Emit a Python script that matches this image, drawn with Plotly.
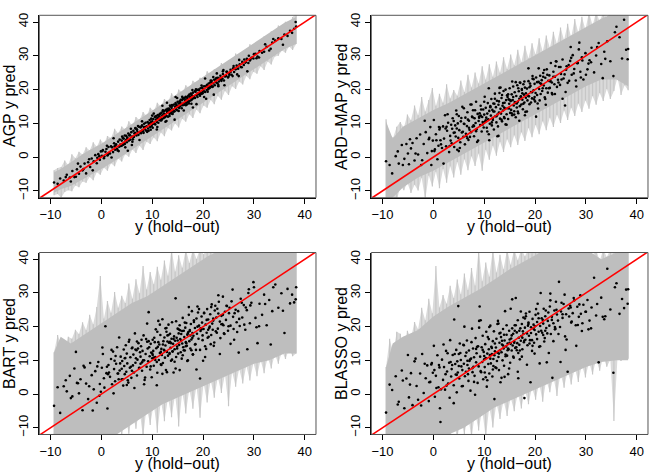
import plotly.graph_objects as go

# ---------------- data ----------------
# hold-out responses (x positions), shared by all four panels
x_holdout = [
    -9.3, -8.6, -8.1, -7.4, -6.8, -6.2, -5.7, -5.3, -4.8, -4.4,
    -4.1, -3.7, -3.3, -3.0, -2.6, -2.2, -1.9, -1.5, -1.2, -0.9,
    -0.6, -0.3, -0.1, 0.1, 0.3, 0.5, 0.8, 1.0, 1.2, 1.4,
    1.7, 1.9, 2.1, 2.3, 2.5, 2.7, 2.9, 3.1, 3.3, 3.5,
    3.6, 3.8, 4.0, 4.1, 4.3, 4.4, 4.5, 4.6, 4.7, 4.8,
    4.9, 5.0, 5.1, 5.3, 5.4, 5.6, 5.7, 5.9, 6.0, 6.2,
    6.3, 6.4, 6.6, 6.7, 6.9, 7.0, 7.1, 7.3, 7.4, 7.6,
    7.7, 7.8, 8.0, 8.1, 8.3, 8.4, 8.5, 8.7, 8.8, 8.9,
    9.1, 9.2, 9.3, 9.5, 9.6, 9.7, 9.8, 9.9, 10.0, 10.1,
    10.2, 10.3, 10.5, 10.6, 10.7, 10.8, 10.9, 11.0, 11.1, 11.2,
    11.3, 11.4, 11.5, 11.6, 11.7, 11.8, 11.9, 12.0, 12.1, 12.2,
    12.3, 12.4, 12.5, 12.6, 12.7, 12.8, 12.9, 13.0, 13.1, 13.2,
    13.3, 13.4, 13.5, 13.6, 13.7, 13.8, 13.9, 14.0, 14.1, 14.2,
    14.3, 14.4, 14.5, 14.6, 14.7, 14.8, 14.9, 15.0, 15.1, 15.2,
    15.3, 15.4, 15.5, 15.6, 15.7, 15.8, 15.9, 16.0, 16.1, 16.2,
    16.3, 16.4, 16.5, 16.6, 16.7, 16.8, 16.9, 17.0, 17.1, 17.2,
    17.3, 17.4, 17.5, 17.6, 17.7, 17.8, 17.9, 18.0, 18.1, 18.2,
    18.4, 18.5, 18.7, 18.8, 18.9, 19.1, 19.2, 19.4, 19.5, 19.7,
    19.8, 19.9, 20.1, 20.2, 20.4, 20.5, 20.7, 20.8, 21.0, 21.1,
    21.3, 21.4, 21.6, 21.7, 21.9, 22.0, 22.2, 22.3, 22.5, 22.6,
    22.8, 22.9, 23.1, 23.3, 23.4, 23.6, 23.8, 23.9, 24.1, 24.3,
    24.5, 24.7, 24.9, 25.1, 25.4, 25.6, 25.9, 26.1, 26.4, 26.6,
    26.9, 27.2, 27.4, 27.7, 28.0, 28.3, 28.6, 28.9, 29.2, 29.5,
    29.9, 30.3, 30.7, 31.1, 31.6, 32.0, 32.5, 33.0, 33.6, 34.2,
    34.8, 35.4, 36.0, 36.6, 37.1, 37.5, 37.9, 38.2, 33.3, 38.3,
    -7.0, -6.0, -4.6, -3.5, -2.4, -1.7, -0.8, 0.2, 0.6, 1.1,
    1.5, 2.0, 2.4, 2.8, 3.2, 3.7, 4.2, 4.6, 5.2, 5.5,
    5.8, 6.1, 6.5, 6.8, 7.2, 7.5, 7.9, 8.2, 8.6, 9.0,
    9.4, 9.7, 10.0, 10.4, 10.6, 10.9, 11.2, 11.5, 11.8, 12.1,
    12.4, 12.6, 12.9, 13.2, 13.4, 13.7, 13.9, 14.2, 14.4, 14.7,
    14.9, 15.2, 15.4, 15.7, 15.9, 16.2, 16.4, 16.7, 16.9, 17.2,
    17.4, 17.7, 17.9, 18.2, 18.4, 18.7, 18.9, 19.2, 19.4, 19.7,
    19.9, 20.2, 20.4, 20.7, 20.9, 21.2, 21.5, 21.8, 22.1, 22.4,
    22.7, 23.0, 23.3, 23.6, 23.9, 24.2, 24.6, 25.0, 25.4, 25.8,
    26.2, 26.7, 27.1, 27.6, 28.1, 28.7, 29.3, 30.0, 31.0, 32.2,
    10.1, 11.0, 12.0, 13.0, 14.0, 15.0, 16.0, 17.0, 18.0, 19.0,
    8.0, 9.0, 20.0, 21.0, 22.0, 6.0, 7.0, 4.0, 5.0, 23.0,
    2.6, 3.4, 24.0, 25.2, 26.0, 27.0, 28.4, 29.0, 30.5, 13.5,
    11.7, 12.8, 14.6, 15.5, 16.6, 17.5, 18.6, 19.5, 20.6, 21.6,
    10.3, 9.3, 8.4, 7.7, 6.7, 35.7, 33.8, 1.3, -0.4, -5.0,
]

pred_agp = [
    -7.5, -7.9, -6.3, -6.9, -5.2, -6.0, -4.1, -5.9, -3.6, -4.9,
    -2.8, -3.9, -1.9, -4.8, -1.5, -2.9, -0.4, -1.2, 0.6, -1.8,
    0.9, -0.8, 1.7, 0.4, 2.1, -0.3, 1.6, 2.4, 0.5, 3.0,
    1.1, 3.2, 2.9, 1.5, 4.1, 2.2, 3.8, 2.5, 4.6, 3.1,
    5.2, 3.3, 4.9, 6.1, 3.7, 5.5, 4.2, 6.4, 2.9, 5.0,
    6.3, 4.4, 5.8, 7.0, 4.9, 6.6, 5.2, 7.4, 6.1, 5.3,
    7.8, 6.0, 7.2, 8.5, 6.4, 8.1, 7.5, 6.6, 9.0, 7.3,
    8.8, 7.1, 9.4, 8.0, 7.2, 9.9, 8.3, 10.2, 7.9, 9.1,
    10.4, 8.5, 9.8, 11.0, 8.9, 10.3, 11.4, 9.2, 10.6, 8.7,
    11.3, 10.0, 11.9, 9.7, 11.1, 12.2, 10.4, 11.6, 12.5, 10.2,
    12.1, 11.0, 12.8, 10.9, 11.7, 13.1, 11.3, 12.4, 13.5, 11.5,
    12.9, 13.7, 11.8, 12.6, 14.0, 12.2, 13.4, 14.3, 12.0, 13.8,
    14.4, 12.8, 13.9, 15.0, 13.1, 14.6, 12.9, 15.2, 14.0, 13.5,
    15.6, 13.6, 14.9, 16.0, 14.2, 15.3, 13.9, 16.4, 14.8, 15.9,
    14.6, 16.5, 15.1, 17.0, 15.8, 14.5, 16.9, 15.4, 17.3, 16.0,
    17.4, 15.5, 16.8, 17.9, 16.1, 15.6, 17.7, 16.6, 18.2, 16.4,
    18.5, 16.7, 17.9, 18.8, 16.9, 18.3, 17.2, 19.1, 17.6, 18.0,
    17.5, 19.4, 18.3, 19.9, 17.8, 20.0, 18.6, 19.2, 20.4, 18.8,
    20.6, 18.9, 19.7, 21.0, 19.3, 20.9, 19.9, 21.4, 20.1, 21.8,
    20.5, 22.1, 21.0, 22.6, 20.9, 21.8, 22.9, 21.3, 22.2, 23.4,
    21.9, 23.5, 22.4, 23.0, 24.1, 22.6, 23.3, 24.6, 22.7, 23.9,
    24.0, 25.3, 23.6, 24.8, 25.9, 24.4, 26.3, 25.2, 26.0, 27.1,
    26.2, 27.5, 26.7, 28.2, 27.3, 28.0, 29.1, 27.9, 28.6, 29.4,
    29.2, 30.6, 29.8, 31.4, 30.9, 31.2, 32.7, 31.6, 33.9, 34.5,
    35.2, 35.0, 36.3, 35.9, 37.4, 36.8, 38.0, 40.0, 32.1, 38.7,
    -5.9, -7.2, -1.9, -3.5, -0.6, -3.9, -0.2, 1.8, 0.2, 3.4,
    1.2, -0.1, 5.6, 3.6, 2.0, 3.7, 5.7, 3.9, 1.9, 6.4,
    8.4, 4.6, 7.0, 6.7, 9.2, 5.1, 9.1, 7.6, 8.9, 7.7,
    10.0, 8.1, 12.3, 10.0, 12.0, 8.2, 11.4, 12.6, 10.9, 13.9,
    12.1, 10.5, 16.1, 14.0, 12.2, 13.7, 15.4, 13.5, 11.1, 15.6,
    17.5, 13.7, 15.9, 15.6, 17.9, 13.8, 17.6, 16.1, 17.2, 15.9,
    17.7, 15.8, 19.9, 17.5, 19.5, 15.7, 18.8, 19.9, 18.2, 21.2,
    19.3, 17.8, 23.3, 21.2, 19.4, 20.9, 22.7, 20.8, 18.5, 23.0,
    24.8, 21.0, 23.3, 23.0, 25.4, 21.3, 25.3, 23.9, 25.2, 24.0,
    26.2, 24.5, 28.8, 26.6, 28.9, 25.4, 28.9, 30.5, 29.5, 33.4,
    9.8, 8.9, 15.2, 13.8, 12.8, 15.0, 17.5, 16.3, 14.7, 19.9,
    10.6, 7.5, 20.2, 20.6, 23.7, 3.6, 8.2, 3.4, 5.3, 21.4,
    3.2, 1.8, 25.8, 24.4, 27.0, 24.0, 28.2, 30.0, 29.3, 15.3,
    11.4, 10.7, 17.8, 16.3, 15.4, 17.5, 20.1, 18.8, 17.3, 22.2,
    12.9, 7.8, 8.9, 7.6, 8.6, 33.3, 35.0, 0.7, 0.3, -5.8,
]

pred_ard = [
    -1.2, -2.3, -4.8, 0.3, -1.9, 3.6, -0.5, 3.9, -2.1, 2.6,
    4.2, -1.0, 5.6, 0.8, 6.7, -0.9, 3.9, 7.4, 1.2, 5.3,
    8.9, 1.8, 4.9, 11.0, 2.3, 6.8, -0.6, 3.4, 8.2, 5.0,
    2.7, 9.1, 5.5, 12.4, 3.2, 7.8, 10.2, 1.5, 6.3, 9.6,
    4.1, 11.5, 7.2, 3.0, 9.4, 6.1, 13.8, 8.5, 2.2, 10.0,
    5.7, 12.2, 8.0, 4.4, 10.6, 7.3, 14.9, 6.0, 9.9, 3.8,
    11.7, 6.9, 9.2, 13.3, 5.1, 10.8, 8.1, 15.6, 7.4, 12.0,
    9.0, 13.9, 6.2, 11.5, 10.1, 16.4, 8.3, 12.8, 4.9, 10.7,
    13.0, 9.5, 15.2, 7.6, 11.9, 10.4, 14.1, 8.8, 12.6, 17.9,
    10.5, 14.6, 8.7, 12.9, 16.0, 11.2, 6.8, 13.7, 9.9, 15.1,
    12.3, 17.2, 9.4, 14.0, 11.0, 15.9, 8.2, 13.5, 18.8, 12.1,
    14.8, 10.3, 16.7, 12.6, 9.1, 15.5, 13.2, 19.0, 11.4, 14.3,
    12.9, 17.5, 10.6, 15.2, 13.8, 19.6, 11.9, 16.1, 14.4, 9.7,
    16.9, 12.7, 18.3, 14.5, 11.3, 17.1, 15.8, 20.4, 13.1, 16.6,
    14.0, 18.6, 12.4, 16.9, 20.9, 15.3, 13.6, 19.2, 16.0, 11.8,
    18.1, 14.7, 21.3, 16.4, 13.0, 19.5, 17.3, 15.1, 22.0, 17.9,
    15.6, 19.9, 17.0, 14.2, 21.6, 18.5, 16.2, 20.6, 13.4, 18.9,
    20.3, 16.8, 22.5, 18.0, 15.7, 21.1, 19.3, 17.4, 23.2, 19.8,
    17.1, 21.7, 19.0, 23.6, 18.4, 15.9, 22.3, 20.2, 24.1, 18.7,
    22.8, 19.6, 24.9, 21.2, 17.7, 23.5, 20.4, 26.0, 19.1, 22.6,
    24.2, 20.5, 27.9, 22.1, 18.6, 25.3, 21.6, 23.8, 28.4, 20.8,
    22.9, 26.7, 21.4, 24.6, 28.9, 23.3, 15.3, 25.9, 22.0, 27.3,
    28.5, 24.4, 30.2, 26.1, 22.7, 27.8, 31.9, 25.3, 29.6, 23.0,
    30.8, 26.0, 28.7, 32.4, 25.1, 30.1, 33.8, 27.6, 31.2, 34.3,
    28.4, 24.0, 38.6, 35.5, 29.2, 40.7, 31.8, 29.0, 23.4, 32.0,
    1.7, -2.3, 5.3, 1.1, -2.3, 10.8, 5.7, 1.8, 5.0, 8.9,
    3.8, -1.9, 8.5, 12.7, 3.3, 8.4, 7.3, 12.7, 2.7, 11.6,
    7.5, 9.8, 6.2, 11.1, 6.0, 15.6, 9.4, 13.9, 4.5, 11.7,
    14.1, 9.7, 16.4, 11.7, 7.6, 20.4, 14.8, 10.3, 13.5, 17.3,
    12.1, 6.2, 16.5, 20.6, 11.1, 16.0, 14.7, 20.0, 9.6, 18.6,
    14.4, 16.8, 13.0, 17.8, 12.6, 22.2, 15.9, 20.4, 10.8, 18.0,
    20.2, 15.8, 22.4, 17.6, 13.5, 26.3, 20.7, 16.2, 19.2, 23.1,
    17.8, 12.0, 22.2, 26.3, 16.8, 21.7, 20.4, 25.8, 15.5, 24.4,
    20.4, 22.7, 19.0, 23.8, 18.7, 28.3, 22.1, 26.7, 17.3, 24.5,
    26.9, 22.6, 29.4, 24.8, 20.9, 33.9, 28.6, 24.4, 28.1, 32.6,
    10.4, 5.0, 15.8, 20.5, 11.5, 17.0, 16.3, 22.1, 12.4, 21.8,
    9.2, 12.0, 16.5, 21.9, 17.2, 14.5, 8.7, 10.7, 1.8, 22.4,
    9.0, 4.9, 27.0, 23.0, 19.3, 32.6, 27.9, 23.6, 27.7, 18.4,
    11.6, 6.3, 17.8, 22.4, 13.5, 18.9, 18.2, 24.0, 14.4, 23.8,
    10.9, 12.3, 7.7, 11.8, 5.6, 37.0, 29.1, 8.7, -2.3, 1.1,
]

pred_bart = [
    -3.5, 2.0, -5.6, 2.3, 0.8, 5.4, -0.7, 7.6, 3.3, 0.2,
    4.4, -4.8, 7.9, 3.1, -1.5, 9.2, 5.6, 1.4, 6.8, -2.6,
    9.5, 3.0, 0.7, 7.8, 11.9, 4.7, 20.1, 6.2, -4.3, 8.6,
    5.1, 10.4, 2.9, 12.6, 7.4, 3.8, 9.0, 13.9, 6.1, 16.8,
    7.0, 11.1, 4.4, 9.8, 2.5, 13.2, 8.3, 5.9, 10.7, 14.5,
    6.6, 12.0, 9.1, 3.4, 15.5, 7.8, 10.9, 4.8, 13.6, 8.5,
    11.7, 6.4, 18.0, 9.3, 13.0, 5.5, 10.2, 15.1, 7.7, 12.4,
    9.0, 14.2, 6.9, 12.8, 17.4, 10.0, 4.2, 11.9, 16.3, 8.1,
    13.5, 9.7, 24.3, 11.2, 7.3, 14.9, 12.3, 5.0, 10.6, 16.1,
    12.8, 8.4, 15.4, 11.0, 19.2, 13.6, 9.5, 6.3, 14.0, 21.7,
    10.1, 14.7, 12.2, 17.5, 8.8, 13.4, 11.6, 22.2, 9.2, 15.7,
    13.1, 16.8, 10.8, 14.4, 7.1, 18.5, 12.5, 15.6, 11.4, 20.6,
    15.2, 11.9, 17.9, 13.7, 9.9, 16.4, 21.3, 12.7, 14.9, 6.4,
    17.1, 13.3, 15.8, 28.4, 11.0, 16.7, 14.1, 19.4, 12.0, 18.0,
    14.6, 20.4, 16.3, 12.4, 17.8, 10.5, 15.0, 22.6, 13.9, 18.8,
    16.9, 12.9, 19.7, 15.4, 21.1, 14.3, 17.6, 10.0, 18.4, 23.5,
    15.7, 19.0, 13.5, 20.8, 16.2, 24.6, 18.1, 11.7, 17.3, 21.9,
    19.6, 14.8, 22.4, 17.9, 26.0, 16.4, 20.3, 4.6, 18.7, 23.0,
    21.2, 16.0, 19.3, 24.1, 14.2, 20.6, 18.2, 25.2, 22.1, 17.0,
    20.0, 23.7, 17.5, 26.6, 19.1, 21.8, 15.3, 24.8, 18.6, 22.7,
    25.3, 19.4, 27.4, 21.5, 16.6, 23.2, 20.8, 28.9, 18.0, 24.4,
    22.0, 26.1, 18.8, 24.0, 20.3, 27.5, 22.9, 16.1, 25.0, 21.3,
    24.6, 20.2, 28.3, 22.7, 26.4, 19.1, 24.9, 30.0, 21.0, 27.1,
    33.2, 22.6, 15.1, 26.8, 23.5, 29.5, 20.4, 27.9, 24.6, 32.5,
    25.6, 29.9, 18.1, 31.2, 26.9, 29.5, 27.2, 28.1, 14.7, 31.7,
    4.1, -1.2, 3.2, 8.4, 2.3, -4.9, 8.2, 13.8, 1.9, 8.1,
    6.4, 13.1, 0.2, 11.3, 6.1, 9.1, 4.4, 10.6, 4.1, 16.1,
    8.1, 13.8, 1.8, 10.6, 13.5, 7.8, 16.1, 10.0, 4.9, 20.9,
    13.9, 8.2, 12.0, 16.7, 10.1, 2.6, 15.4, 20.6, 8.6, 14.7,
    12.9, 19.5, 6.5, 17.5, 12.2, 15.1, 10.2, 16.3, 9.6, 21.6,
    13.5, 19.2, 7.1, 15.9, 18.7, 13.0, 21.2, 15.1, 9.8, 25.8,
    18.7, 13.0, 16.7, 21.4, 14.7, 7.3, 20.0, 25.2, 13.1, 19.2,
    17.4, 24.0, 11.0, 22.0, 16.7, 19.6, 14.8, 20.9, 14.3, 26.2,
    18.2, 23.9, 11.9, 20.7, 23.5, 17.8, 26.2, 20.1, 14.9, 31.0,
    24.0, 18.4, 22.3, 27.1, 20.6, 13.3, 26.3, 31.7, 20.1, 26.7,
    11.6, 18.5, 6.0, 17.4, 12.6, 15.9, 11.5, 18.0, 11.8, 24.2,
    9.4, 15.5, 9.9, 19.1, 22.4, 6.9, 15.6, 7.5, 2.7, 29.3,
    9.9, 4.4, 20.4, 25.6, 19.3, 12.3, 25.7, 31.1, 19.8, 15.5,
    12.5, 19.6, 7.6, 18.9, 14.2, 17.4, 13.1, 19.5, 13.4, 25.8,
    10.8, 15.7, 2.9, 11.1, 13.2, 24.7, 31.7, 5.9, -0.5, 12.5,
]

pred_blasso = [
    -5.5, 2.8, 1.2, 5.3, -2.3, 7.0, -4.2, 4.6, -1.0, 6.2,
    -3.3, 9.7, 2.4, -1.7, 6.1, 11.9, 0.3, 4.7, 8.5, -2.1,
    3.6, 9.2, 6.3, 14.3, -0.8, 5.4, 11.5, 2.0, 7.9, -8.3,
    10.2, 4.2, 8.0, 1.3, 12.8, 6.7, 3.1, 9.3, 16.0, 5.2,
    7.4, 11.6, 2.6, 22.1, 8.9, 5.8, 13.1, 0.5, 9.7, 6.4,
    26.1, 8.3, 4.6, 12.2, 10.1, 2.3, 7.1, 14.6, 9.0, 5.3,
    11.3, 6.6, 15.9, 8.6, 3.9, 12.9, 9.8, 1.0, 10.5, 19.4,
    7.7, 13.5, 10.9, 5.4, 16.6, 9.4, 12.1, 3.3, 14.2, 8.2,
    26.0, 11.1, 6.8, 13.9, 9.5, 17.3, 4.4, 12.5, 10.3, 8.0,
    14.8, 10.7, 2.2, 12.0, 16.9, 8.9, 13.3, 6.1, 11.6, 20.3,
    9.1, 14.0, 11.9, 5.2, 15.7, 10.4, 18.6, -1.5, 12.7, 7.9,
    13.8, 16.4, 9.8, 12.3, 21.7, 11.0, 7.1, 15.2, 13.0, 3.5,
    16.9, 12.4, 14.7, 10.0, 19.3, 13.5, 8.4, 15.9, 24.6, 11.7,
    14.1, 17.6, 11.4, 15.0, 5.9, 13.2, 18.8, 16.2, 9.3, 14.9,
    16.5, 12.9, 28.1, 14.4, 17.9, 10.8, 15.6, 20.4, 13.7, 28.5,
    13.9, 18.3, 15.1, 21.9, 12.2, 16.7, 14.6, 10.3, 19.5, 15.8,
    17.2, 20.8, 13.3, 18.6, 22.7, 15.4, -1.2, 19.7, 16.1, 23.9,
    18.0, 14.5, 21.2, 17.3, 24.4, 3.5, 19.8, 16.0, 22.3, 20.6,
    15.2, 19.0, 23.5, 17.7, 21.4, 26.8, 18.5, 14.0, 20.2, 30.0,
    22.5, 18.2, 20.9, 25.3, 16.6, 23.1, 19.6, 9.4, 21.7, 24.2,
    20.3, 26.0, 17.8, 22.9, 4.8, 21.0, 24.8, 19.2, 27.4, 23.6,
    21.8, 33.3, 19.9, 24.5, 22.6, 26.7, 17.1, 23.7, 6.6, 25.4,
    26.2, 21.5, 24.0, 27.8, 20.4, 25.9, 22.9, 29.3, 18.7, 26.5,
    24.4, 27.9, 21.8, 25.7, 34.5, 23.3, 9.4, 28.6, 22.2, 37.2,
    25.1, 6.3, 32.9, 23.8, 28.2, 25.5, 31.0, 26.8, 22.9, 31.1,
    -3.1, 4.0, 2.8, 10.5, -3.4, 9.0, 3.5, 7.1, 1.8, 8.6,
    1.4, 14.7, 5.9, 12.1, -1.1, 8.6, 11.9, 5.7, 15.0, 8.2,
    2.4, 20.0, 12.3, 5.9, 10.2, 15.4, 8.1, -0.2, 14.0, 19.7,
    6.5, 13.1, 11.3, 18.5, 4.1, 16.3, 10.5, 13.7, 8.3, 15.0,
    7.7, 20.8, 12.0, 18.2, 4.8, 14.4, 17.6, 11.2, 20.4, 13.5,
    7.6, 25.3, 17.4, 11.1, 15.2, 20.4, 13.0, 4.7, 18.8, 24.5,
    11.1, 17.8, 15.9, 23.1, 8.7, 20.8, 15.0, 18.1, 12.8, 19.4,
    12.0, 25.2, 16.3, 22.5, 9.1, 18.8, 22.0, 15.6, 24.8, 18.0,
    12.2, 29.8, 22.0, 15.7, 19.9, 25.0, 17.8, 9.5, 23.7, 29.5,
    16.2, 23.0, 21.2, 28.5, 14.3, 26.6, 21.0, 24.4, 19.5, 26.7,
    6.4, 19.9, 11.5, 18.0, 5.1, 15.2, 18.8, 12.9, 22.4, 16.0,
    3.6, 21.7, 20.1, 14.2, 18.8, 14.5, 7.6, -2.7, 11.9, 27.8,
    2.5, 9.5, 19.4, 27.1, 13.1, 25.7, 20.5, 23.8, 19.2, 15.8,
    7.3, 20.9, 13.0, 19.5, 6.6, 16.7, 20.3, 14.3, 23.9, 17.5,
    5.0, 21.9, 13.4, 6.5, 9.9, 31.7, 23.1, -4.2, 8.8, 11.6,
]

# outer (spiky) predictive-interval envelope, sampled along the hold-out axis
band_x = [
    -9.3, -8.6, -7.9, -7.2, -6.5, -5.8, -5.1, -4.4, -3.7, -3.0,
    -2.3, -1.6, -0.9, -0.2, 0.5, 1.2, 1.9, 2.6, 3.3, 4.0,
    4.7, 5.4, 6.1, 6.8, 7.5, 8.2, 8.9, 9.6, 10.3, 11.0,
    11.7, 12.4, 13.1, 13.8, 14.5, 15.2, 15.9, 16.6, 17.3, 18.0,
    18.7, 19.4, 20.1, 20.8, 21.5, 22.2, 22.9, 23.6, 24.3, 25.0,
    25.7, 26.4, 27.1, 27.8, 28.5, 29.2, 29.9, 30.6, 31.3, 32.0,
    32.7, 33.4, 34.1, 34.8, 35.5, 36.2, 36.9, 37.6, 38.3,
]

agp_hi = [
    -3.9, -3.2, -2.9, -1.0, -2.4, 0.9, -0.3, 1.6, 0.8, 2.9,
    2.0, 4.4, 3.1, 5.2, 4.0, 6.3, 5.6, 8.4, 7.0, 9.1,
    8.2, 10.6, 9.3, 11.9, 11.0, 13.4, 12.2, 14.6, 13.7, 16.1,
    15.0, 17.2, 16.4, 18.9, 17.6, 20.0, 19.1, 21.3, 20.4, 22.6,
    21.8, 23.5, 22.9, 25.4, 24.3, 26.0, 25.6, 27.9, 26.8, 28.6,
    28.0, 30.7, 29.5, 31.2, 30.9, 33.4, 32.6, 34.1, 33.5, 35.8,
    35.2, 37.3, 36.6, 39.0, 38.4, 40.1, 39.6, 41.5, 42.5,
]
agp_lo = [
    -11.3, -10.9, -12.0, -10.3, -9.8, -10.1, -8.4, -8.9, -7.2, -7.6,
    -5.9, -6.8, -4.5, -5.2, -3.1, -4.0, -1.8, -2.7, -0.4, -1.3,
    0.9, 0.1, 2.3, 1.2, 3.4, 2.1, 4.6, 3.9, 5.8, 4.7,
    7.3, 6.2, 8.6, 7.9, 10.0, 8.8, 11.4, 10.5, 12.7, 11.6,
    14.1, 13.0, 15.3, 14.6, 16.9, 15.7, 18.1, 17.0, 19.6, 18.4,
    21.0, 20.2, 22.4, 21.5, 24.0, 23.1, 25.3, 24.7, 26.9, 25.8,
    28.3, 27.4, 29.8, 30.0, 31.6, 30.9, 32.8, 31.7, 33.5,
]

ard_hi = [
    11.2, 6.5, 5.8, 9.0, 10.4, 8.7, 12.6, 10.9, 15.3, 12.4,
    17.8, 13.5, 16.9, 20.5, 15.2, 18.8, 16.1, 21.6, 17.4, 19.9,
    18.2, 22.7, 19.3, 24.4, 20.6, 25.1, 21.8, 26.9, 22.9, 27.5,
    23.8, 28.3, 25.0, 29.6, 26.1, 30.4, 27.2, 31.8, 28.1, 33.0,
    29.2, 33.7, 30.4, 35.2, 31.3, 36.0, 32.4, 37.1, 33.5, 38.4,
    34.6, 39.5, 35.5, 40.9, 36.8, 41.6, 37.7, 43.0, 38.9, 43.0,
    40.2, 43.0, 41.3, 43.0, 43.0, 43.0, 43.0, 43.0, 43.0,
]
ard_lo = [
    -13.0, -13.0, -11.5, -13.0, -8.5, -9.8, -7.6, -10.6, -8.2, -9.9,
    -6.1, -12.6, -5.4, -8.7, -4.3, -9.2, -3.5, -7.6, -2.7, -6.0,
    -1.4, -5.2, -0.6, -3.9, 0.3, -2.6, 1.1, -4.0, 2.2, -0.8,
    3.4, 0.4, 4.6, 1.5, 5.3, 2.9, 6.5, 3.6, 7.4, 4.8,
    8.6, 5.9, 9.5, 6.8, 10.6, 8.0, 11.7, 8.9, 12.5, 10.1,
    13.8, 11.0, 14.6, 12.2, 15.9, 13.4, 16.8, 14.3, 18.1, 15.5,
    19.0, 16.6, 20.2, 17.2, 19.6, 23.5, 18.4, 21.3, 19.8,
]

bart_hi = [
    12.4, 17.5, 14.6, 13.2, 17.0, 16.4, 19.1, 17.8, 21.3, 19.0,
    23.5, 20.7, 25.8, 35.0, 22.4, 27.6, 24.1, 30.3, 25.6, 29.2,
    27.0, 32.8, 28.3, 34.1, 29.9, 38.0, 31.0, 36.2, 32.6, 37.8,
    33.9, 39.6, 35.1, 43.0, 36.4, 41.2, 37.5, 43.0, 38.9, 43.0,
    40.1, 43.0, 41.5, 43.0, 43.0, 43.0, 42.0, 43.0, 43.0, 43.0,
    43.0, 43.0, 43.0, 43.0, 43.0, 43.0, 43.0, 43.0, 43.0, 43.0,
    43.0, 43.0, 43.0, 43.0, 43.0, 43.0, 43.0, 43.0, 43.0,
]
bart_lo = [
    -13.0, -13.0, -13.0, -13.0, -13.0, -13.0, -13.0, -13.0, -11.4, -13.0,
    -12.2, -13.0, -10.9, -13.0, -9.7, -13.0, -8.8, -13.0, -7.9, -12.4,
    -6.6, -11.8, -5.7, -10.3, -4.6, -13.0, -3.8, -9.2, -2.9, -11.5,
    -2.0, -8.1, -1.2, -6.9, -0.3, -9.6, 0.6, -5.8, 1.5, -4.4,
    2.4, -7.0, 3.2, -2.5, 4.1, -1.1, 5.0, 0.3, 5.8, -3.6,
    6.7, 2.2, 7.5, 3.1, 8.4, 4.0, 9.2, 5.3, 10.1, 6.2,
    10.9, 7.6, 11.8, 9.0, 12.6, 10.4, 13.3, 11.2, 12.0,
]

blasso_hi = [
    8.0, 16.4, 12.3, 18.5, 17.9, 14.1, 18.8, 16.6, 21.4, 19.2,
    25.6, 21.9, 28.3, 24.0, 38.0, 25.7, 29.4, 26.8, 32.1, 28.5,
    34.0, 29.6, 35.8, 30.9, 37.4, 32.2, 43.0, 33.5, 39.0, 34.8,
    43.0, 36.1, 41.3, 37.0, 43.0, 38.4, 43.0, 39.7, 43.0, 40.9,
    43.0, 41.8, 43.0, 43.0, 43.0, 43.0, 43.0, 43.0, 43.0, 43.0,
    43.0, 43.0, 43.0, 43.0, 43.0, 43.0, 43.0, 43.0, 41.2, 43.0,
    39.4, 43.0, 40.6, 43.0, 43.0, 41.5, 43.0, 43.0, 43.0,
]
blasso_lo = [
    -13.0, -13.0, -13.0, -13.0, -13.0, -11.0, -13.0, -12.4, -13.0, -10.5,
    -13.0, -12.1, -13.0, -9.8, -13.0, -11.3, -13.0, -9.0, -13.0, -8.2,
    -13.0, -7.4, -12.0, -6.3, -13.0, -5.5, -10.8, -4.6, -13.0, -3.8,
    -9.9, -2.7, -7.4, -1.9, -6.5, -1.0, -5.1, 0.2, -4.3, 1.1,
    -3.0, 2.0, -1.7, 3.3, -2.3, 4.2, 0.5, 5.1, -0.6, 6.2,
    1.9, 6.9, 2.8, 7.8, 3.6, 8.7, 4.9, 9.5, 5.8, 10.3,
    6.9, 11.0, 8.1, 10.2, -8.0, 10.6, 9.8, 11.4, 10.5,
]

# inner (solid) core of the interval band
core_x = [-9.3, -8.0, -6.0, -3.0, 0.0, 3.0, 6.0, 9.0, 12.0, 15.0,
          18.0, 21.0, 24.0, 27.0, 30.0, 33.0, 36.0, 38.3]
agp_core_lo = [-10.5, -9.5, -8.5, -6.0, -3.5, -0.8, 2.0, 5.0, 8.0, 11.0,
               14.0, 17.0, 20.0, 23.0, 26.0, 29.0, 32.0, 33.5]
agp_core_hi = [-4.5, -3.5, -1.5, 1.5, 4.0, 6.8, 9.8, 12.8, 15.8, 18.8,
               21.8, 24.8, 27.8, 30.8, 33.8, 36.8, 39.8, 41.5]
ard_core_lo = [-12.0, -12.0, -9.0, -6.0, -4.0, -1.5, 1.0, 3.5, 6.0, 8.5,
               11.0, 13.5, 16.0, 18.5, 21.0, 23.0, 23.0, 21.0]
ard_core_hi = [10.5, 5.5, 9.0, 11.5, 14.0, 16.0, 18.5, 21.0, 23.5, 26.0,
               28.5, 31.0, 33.5, 36.0, 38.5, 41.0, 43.0, 43.0]
bart_core_lo = [-13.0, -13.0, -13.0, -13.0, -13.0, -12.0, -9.0, -6.0, -3.0, -1.0,
                1.0, 3.0, 5.0, 7.0, 9.0, 10.0, 12.0, 12.0]
bart_core_hi = [12.4, 17.0, 15.0, 18.0, 21.0, 24.0, 27.0, 29.0, 32.0, 35.0,
                38.0, 41.0, 43.0, 43.0, 43.0, 43.0, 43.0, 43.0]
blasso_core_lo = [-13.0, -13.0, -13.0, -13.0, -13.0, -12.0, -10.0, -7.0, -4.0, -2.0,
                  0.0, 2.0, 4.0, 6.0, 8.0, 9.5, 10.0, 10.0]
blasso_core_hi = [8.0, 15.0, 17.0, 19.0, 23.0, 26.0, 28.5, 31.0, 34.0, 37.0,
                  39.5, 42.0, 43.0, 43.0, 43.0, 40.0, 42.0, 42.0]

panel_titles = ["AGP y pred", "ARD\u2212MAP y pred", "BART y pred", "BLASSO y pred"]
x_title = "y (hold\u2212out)"
tick_vals = [-10, 0, 10, 20, 30, 40]
diag_ends = [-13, 43]

# ---------------- figure ----------------
W, H = 664, 475
dom_x = [[0.0592, 0.4759], [0.5592, 0.9759], [0.0592, 0.4759], [0.5592, 0.9759]]
dom_y = [[0.5838, 0.9678], [0.5838, 0.9678], [0.0853, 0.4684], [0.0853, 0.4684]]
preds = [pred_agp, pred_ard, pred_bart, pred_blasso]
los = [agp_lo, ard_lo, bart_lo, blasso_lo]
his = [agp_hi, ard_hi, bart_hi, blasso_hi]
core_los = [agp_core_lo, ard_core_lo, bart_core_lo, blasso_core_lo]
core_his = [agp_core_hi, ard_core_hi, bart_core_hi, blasso_core_hi]

FONT = "Liberation Sans, Arial, Helvetica, sans-serif"
fig = go.Figure()
annotations = []
shapes = []
layout_axes = {}

for i in range(4):
    sfx = "" if i == 0 else str(i + 1)
    xa, ya = "x" + sfx, "y" + sfx
    # outer spiky envelope (light)
    fig.add_trace(go.Scatter(
        x=band_x + band_x[::-1], y=his[i] + los[i][::-1],
        xaxis=xa, yaxis=ya, mode="lines", fill="toself",
        fillcolor="#dadada", line=dict(width=0, color="#dadada"),
        hoverinfo="skip", showlegend=False))
    # streaks: one thin vertical interval per sampled position
    sx, sy = [], []
    for bx, lo, hi in zip(band_x, los[i], his[i]):
        sx += [bx, bx, None]
        sy += [lo, hi, None]
    fig.add_trace(go.Scatter(
        x=sx, y=sy, xaxis=xa, yaxis=ya, mode="lines",
        line=dict(width=1.2, color="#c6c6c6"), hoverinfo="skip",
        showlegend=False))
    # solid core
    fig.add_trace(go.Scatter(
        x=core_x + core_x[::-1], y=core_his[i] + core_los[i][::-1],
        xaxis=xa, yaxis=ya, mode="lines", fill="toself",
        fillcolor="#bebebe", line=dict(width=0, color="#bebebe"),
        hoverinfo="skip", showlegend=False))
    # points
    fig.add_trace(go.Scatter(
        x=x_holdout, y=preds[i], xaxis=xa, yaxis=ya, mode="markers",
        marker=dict(color="black", size=2.6, line=dict(width=0)),
        showlegend=False))
    # y = x reference line
    fig.add_trace(go.Scatter(
        x=diag_ends, y=diag_ends, xaxis=xa, yaxis=ya, mode="lines",
        line=dict(color="#ff0000", width=1.6), showlegend=False))

    common = dict(
        showgrid=False, zeroline=False, showline=True, linecolor="black",
        linewidth=1, ticks="outside", ticklen=5, tickwidth=1, tickcolor="black",
        tickvals=tick_vals, tickfont=dict(family=FONT, size=13, color="black"),
        mirror=False, automargin=False)
    layout_axes["xaxis" + sfx] = dict(common, domain=dom_x[i], range=[-12.2, 42.2],
                                      anchor=ya)
    layout_axes["yaxis" + sfx] = dict(common, domain=dom_y[i], range=[-12.0, 42.0],
                                      anchor=xa, tickangle=-90)
    # box
    shapes.append(dict(type="rect", xref=xa + " domain", yref=ya + " domain",
                       x0=0, x1=1, y0=0, y1=1, line=dict(color="#555555", width=1),
                       layer="above"))
    # titles
    cx = (dom_x[i][0] + dom_x[i][1]) / 2
    cy = (dom_y[i][0] + dom_y[i][1]) / 2
    ybase_px = 226 if i < 2 else 463
    annotations.append(dict(text=x_title, xref="paper", yref="paper",
                            x=cx, y=1 - ybase_px / H, xanchor="center", yanchor="middle",
                            showarrow=False, font=dict(family=FONT, size=16, color="black")))
    xpx = 9.5 if i % 2 == 0 else 341.5
    annotations.append(dict(text=panel_titles[i], xref="paper", yref="paper",
                            x=xpx / W, y=cy, xanchor="center", yanchor="middle",
                            textangle=-90, showarrow=False,
                            font=dict(family=FONT, size=16, color="black")))

fig.update_layout(
    width=W, height=H, margin=dict(l=0, r=0, t=0, b=0, autoexpand=False),
    plot_bgcolor="white", paper_bgcolor="white",
    annotations=annotations, shapes=shapes, showlegend=False,
    **layout_axes)

fig.write_html("out.html", config={"displayModeBar": False},
               post_script="document.body.style.margin='0';document.body.style.overflow='hidden';")
